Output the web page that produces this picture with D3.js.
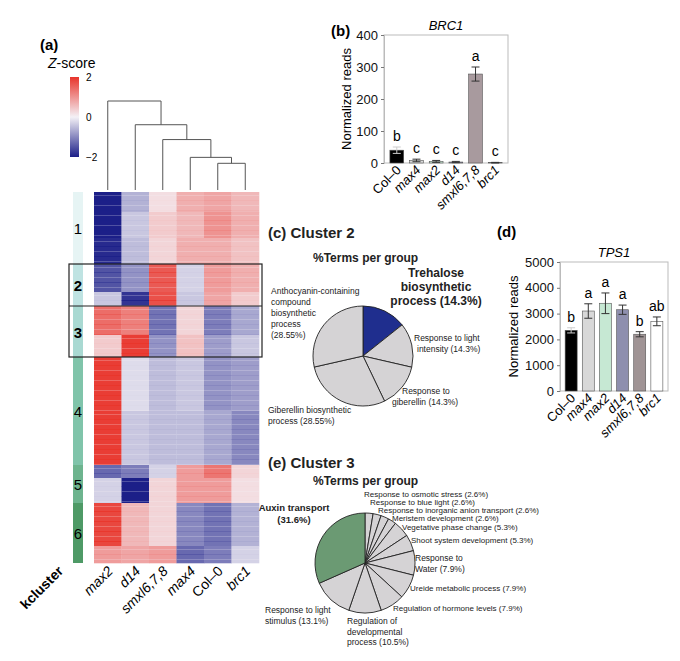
<!DOCTYPE html>
<html><head><meta charset="utf-8">
<script src="https://cdn.jsdelivr.net/npm/d3@7"></script>
<style>body{margin:0;background:#fff}text{font-family:Arial,"Liberation Sans",sans-serif}</style>
</head><body><svg id="fig" width="680" height="661"></svg>
<script>
// heatmap
const hmCols = ["max2", "d14", "smxl6,7,8", "max4", "Col\u20130", "brc1"];
const clusterNames = ["1", "2", "3", "4", "5", "6"];
const clusterRows = [72, 42, 51, 108, 38, 60];   // row count per cluster (height share)
const clusterColors = ["#e6f4f4", "#bfe3e2", "#a9d9d2", "#80c4aa", "#6db48e", "#4e9a66"];
// sub-blocks: [cluster, rows, values per column]
const hmBlocks = [
  [0, 20, [-2.0, -0.6, 0.2, 0.7, 0.8, 0.6]],
  [0, 26, [-2.0, -0.4, 0.4, 0.6, 1.0, 0.7]],
  [0, 26, [-1.9, -0.5, 0.3, 0.7, 0.7, 0.5]],
  [1, 28, [-1.5, -0.9, 1.6, -0.3, 0.9, 0.7]],
  [1, 14, [-0.4, -1.8, 1.7, -0.4, 0.8, 0.4]],
  [2, 29, [1.4, 1.2, -1.2, 0.3, -1.1, -0.7]],
  [2, 22, [0.4, 1.9, -0.9, 0.5, -0.8, -0.4]],
  [3, 54, [1.9, -0.2, -0.5, -0.4, -0.9, -0.8]],
  [3, 54, [1.9, -0.4, -0.5, -0.5, -0.7, -1.0]],
  [4, 13, [-1.3, -1.1, -0.3, 0.9, 1.3, 0.3]],
  [4, 25, [-0.3, -2.0, 0.3, 0.9, 0.9, 0.2]],
  [5, 43, [1.8, 0.6, 0.3, -1.0, -1.2, -0.6]],
  [5, 17, [0.9, 0.8, 0.9, -1.3, -1.1, -0.3]]
];
// dendrogram merges: [left (col or node), right, height]
const dendro = [[4, 5, 0.18], [3, "m0", 0.22], [2, "m1", 0.34], [1, "m2", 0.44], [0, "m3", 0.6]];

// bar panels
const barCats = ["Col\u20130", "max4", "max2", "d14", "smxl6,7,8", "brc1"];
const brcVals = [40, 8, 5, 3, 278, 1];
const brcErr = [10, 4, 3, 2, 22, 1];
const brcLetters = ["b", "c", "c", "c", "a", "c"];
const brcColors = ["#000", "#d8d8d8", "#c6e8d3", "#8e8fae", "#a89a9e", "#fff"];
const tpsVals = [2350, 3100, 3400, 3150, 2200, 2700];
const tpsErr = [100, 280, 400, 180, 100, 170];
const tpsLetters = ["b", "a", "a", "a", "b", "ab"];
const tpsColors = ["#000", "#d8d8d8", "#c6e8d3", "#8e8fae", "#a09495", "#fff"];

// pies
const c2Terms = ["Trehalose biosynthetic process", "Response to light intensity", "Response to giberellin", "Giberellin biosynthetic process", "Anthocyanin-containing compound biosynthetic process"];
const c2Pct = [14.3, 14.3, 14.3, 28.55, 28.55];
const c3Terms = ["Response to osmotic stress", "Response to blue light", "Response to inorganic anion  transport", "Meristem development", "Vegetative phase change", "Shoot system development", "Response to Water", "Ureide metabolic process", "Regulation of hormone levels", "Regulation of developmental process", "Response to light stimulus", "Auxin transport"];
const c3Pct = [2.6, 2.6, 2.6, 2.6, 5.3, 5.3, 7.9, 7.9, 7.9, 10.5, 13.1, 31.6];

const svg = d3.select("#fig");
const z = d3.scaleLinear().domain([-2, 0, 2]).range(["#1c1f88", "#f4f1f6", "#e8342b"]).clamp(true);

// ---------- (a) heatmap ----------
svg.append("text").attr("x", 40).attr("y", 50).attr("font-size", 15).attr("font-weight", "bold").text("(a)");
const zs = svg.append("text").attr("x", 48).attr("y", 68).attr("font-size", 14);
zs.append("tspan").attr("font-style", "italic").text("Z");
zs.append("tspan").text("-score");
const grad = svg.append("defs").append("linearGradient").attr("id", "zg").attr("x1", 0).attr("x2", 0).attr("y1", 0).attr("y2", 1);
[2, 1, 0, -1, -2].forEach((v, i) => grad.append("stop").attr("offset", i / 4).attr("stop-color", z(v)));
const zy = d3.scaleLinear().domain([2, -2]).range([77, 157]);
svg.append("rect").attr("x", 70).attr("y", 77).attr("width", 9).attr("height", 80).attr("fill", "url(#zg)");
[2, 0, -2].forEach(v => svg.append("text").attr("x", 86).attr("y", zy(v) + 4).attr("font-size", 10).text(v < 0 ? "\u22122" : v));

const hx = d3.scaleBand().domain(d3.range(hmCols.length)).range([94, 259]);
const totalRows = d3.sum(clusterRows);
const hy = d3.scaleLinear().domain([0, totalRows]).range([192, 563]);
let r0 = 0;
hmBlocks.forEach(([c, n, vals]) => {
  vals.forEach((v, j) => {
    svg.append("rect").attr("x", hx(j)).attr("y", hy(r0)).attr("width", hx.bandwidth() + 0.3)
      .attr("height", hy(r0 + n) - hy(r0) + 0.3).attr("fill", z(v));
  });
  // thin stripes to hint row texture
  for (let k = 3; k < n; k += 5) {
    vals.forEach((v, j) => {
      svg.append("rect").attr("x", hx(j)).attr("y", hy(r0 + k)).attr("width", hx.bandwidth())
        .attr("height", 1).attr("fill", z(v * (k % 2 ? 0.7 : 1.15))).attr("opacity", 0.8);
    });
  }
  r0 += n;
});
// cluster side bar
let cr = 0;
const starts = [];
clusterRows.forEach((n, i) => {
  starts.push(cr);
  svg.append("rect").attr("x", 73).attr("y", hy(cr)).attr("width", 10).attr("height", hy(cr + n) - hy(cr)).attr("fill", clusterColors[i]);
  svg.append("text").attr("x", 78).attr("y", (hy(cr) + hy(cr + n)) / 2 + 6).attr("text-anchor", "middle")
    .attr("font-size", 15).attr("font-weight", (i == 1 || i == 2) ? "bold" : "normal").text(clusterNames[i]);
  cr += n;
});
// box around clusters 2 and 3
svg.append("rect").attr("x", 69).attr("y", hy(starts[1])).attr("width", 193).attr("height", hy(starts[3]) - hy(starts[1]))
  .attr("fill", "none").attr("stroke", "#222").attr("stroke-width", 1.2);
svg.append("line").attr("x1", 69).attr("x2", 262).attr("y1", hy(starts[2])).attr("y2", hy(starts[2])).attr("stroke", "#222").attr("stroke-width", 1.2);
// column labels
hmCols.forEach((c, j) => {
  svg.append("text").attr("transform", `translate(${hx(j) + hx.bandwidth() / 2 + 6},572) rotate(-45)`)
    .attr("text-anchor", "end").attr("font-size", 14).attr("font-style", c == "Col\u20130" ? "normal" : "italic").text(c);
});
svg.append("text").attr("transform", "translate(64,572) rotate(-45)").attr("text-anchor", "end")
  .attr("font-size", 14).attr("font-weight", "bold").text("kcluster");
// dendrogram
const dh = d3.scaleLinear().domain([0, 0.6]).range([190, 101]);
const nodes = {};
hmCols.forEach((c, j) => nodes[j] = { x: hx(j) + hx.bandwidth() / 2, h: 0 });
dendro.forEach(([a, b, h], i) => {
  const A = nodes[a], B = nodes[b];
  svg.append("path").attr("d", `M${A.x},${dh(A.h)}V${dh(h)}H${B.x}V${dh(B.h)}`)
    .attr("fill", "none").attr("stroke", "#555").attr("stroke-width", 1);
  nodes["m" + i] = { x: (A.x + B.x) / 2, h: h };
});

// ---------- bar panels ----------
function barPanel(o) {
  const x = d3.scaleBand().domain(barCats).range([o.x0, o.x1]).padding(0.3);
  const y = d3.scaleLinear().domain([0, o.max]).range([o.y1, o.y0]);
  const g = svg.append("g");
  g.append("text").attr("x", o.lx).attr("y", o.ly).attr("font-size", 15).attr("font-weight", "bold").text(o.label);
  g.append("text").attr("x", (o.x0 + o.x1) / 2).attr("y", o.y0 - 5).attr("text-anchor", "middle")
    .attr("font-size", 13).attr("font-style", "italic").text(o.title);
  g.append("rect").attr("x", o.x0).attr("y", o.y0).attr("width", o.x1 - o.x0).attr("height", o.y1 - o.y0)
    .attr("fill", "none").attr("stroke", "#bbb");
  const ax = g.append("g").attr("transform", `translate(${o.x0},0)`)
    .call(d3.axisLeft(y).ticks(o.ticks).tickSize(3).tickFormat(d3.format("d")));
  ax.selectAll("text").attr("font-size", 13).attr("fill", "#111");
  ax.select(".domain").attr("stroke", "#bbb");
  ax.selectAll(".tick line").attr("stroke", "#777");
  g.append("text").attr("transform", `translate(${o.x0 - o.tOff},${(o.y0 + o.y1) / 2}) rotate(-90)`)
    .attr("text-anchor", "middle").attr("font-size", 13).text("Normalized reads");
  barCats.forEach((c, i) => {
    const bx = x(c), bw = x.bandwidth(), cx = bx + bw / 2;
    g.append("rect").attr("x", bx).attr("y", y(o.vals[i])).attr("width", bw).attr("height", y(0) - y(o.vals[i]))
      .attr("fill", o.colors[i]).attr("stroke", "#555").attr("stroke-width", 0.6);
    const e1 = y(o.vals[i] + o.err[i]), e2 = y(Math.max(0, o.vals[i] - o.err[i]));
    const ec = i == 0 ? "#ccc" : "#333";
    g.append("path").attr("d", `M${cx},${e1}V${e2}M${cx - 4},${e1}H${cx + 4}M${cx - 4},${e2}H${cx + 4}`).attr("stroke", ec).attr("fill", "none");
    g.append("text").attr("x", cx).attr("y", e1 - 6).attr("text-anchor", "middle").attr("font-size", 14).text(o.letters[i]);
    g.append("text").attr("transform", `translate(${cx + 5},${o.y1 + 8}) rotate(-45)`).attr("text-anchor", "end")
      .attr("font-size", 13).attr("font-style", c == "Col\u20130" ? "normal" : "italic").text(c);
  });
}
barPanel({ label: "(b)", lx: 331, ly: 36, title: "BRC1", x0: 384, x1: 508, y0: 35, y1: 163, max: 400, ticks: 4, tOff: 33,
  vals: brcVals, err: brcErr, letters: brcLetters, colors: brcColors });
barPanel({ label: "(d)", lx: 497, ly: 237, title: "TPS1", x0: 560, x1: 668, y0: 262, y1: 391, max: 5000, ticks: 5, tOff: 42,
  vals: tpsVals, err: tpsErr, letters: tpsLetters, colors: tpsColors });

// ---------- pies ----------
function pie(cx, cy, r, pcts, hiIdx, hiColor) {
  const arcs = d3.pie().sort(null).value(d => d)(pcts);
  const arc = d3.arc().innerRadius(0).outerRadius(r);
  svg.append("g").attr("transform", `translate(${cx},${cy})`).selectAll("path").data(arcs).join("path")
    .attr("d", arc).attr("fill", (d, i) => i == hiIdx ? hiColor : "#d5d3d5").attr("stroke", "#222").attr("stroke-width", 0.9);
}
function label(x, y, lines, o = {}) {
  const t = svg.append("text").attr("x", x).attr("y", y).attr("font-size", o.size || 8.5)
    .attr("text-anchor", o.anchor || "start").attr("font-weight", o.bold ? "bold" : "normal").attr("fill", "#222");
  lines.forEach((l, i) => t.append("tspan").attr("x", x).attr("dy", i ? (o.lh || 10.5) : 0).text(l));
}
label(268, 238, ["(c)  Cluster 2"], { size: 15, bold: true });
label(313, 262, ["%Terms per group"], { size: 12, bold: true });
pie(363, 356, 50, c2Pct, 0, "#1f2e8e");
label(436, 277, ["Trehalose", "biosynthetic", "process (" + c2Pct[0] + "%)"], { size: 12, bold: true, anchor: "middle", lh: 14 });
label(414, 341, ["Response to light"]); label(417, 352, ["intensity (" + c2Pct[1] + "%)"]);
label(402, 394, ["Response to"]); label(392, 405, ["giberellin (" + c2Pct[2] + "%)"]);
label(268, 413, ["Giberellin biosynthetic", "process (" + c2Pct[3] + "%)"], { lh: 11 });
label(271, 294, ["Anthocyanin-containing", "compound", "biosynthetic", "process", "(" + c2Pct[4] + "%)"], { lh: 11 });

label(268, 468, ["(e)  Cluster 3"], { size: 15, bold: true });
label(313, 485, ["%Terms per group"], { size: 12, bold: true });
pie(365, 563, 50, c3Pct, 11, "#6b9a73");
label(294, 511, ["Auxin transport"], { size: 9.5, bold: true, anchor: "middle" });
label(294, 523, ["(" + c3Pct[11] + "%)"], { size: 9.5, bold: true, anchor: "middle" });
const c3Pos = [[364, 497], [370, 505], [378, 513], [392, 521], [402, 530], [411, 543], [415, 561, ["Response to", "Water (7.9%)"]],
  [410, 591], [393, 611], [347, 624, ["Regulation of", "developmental", "process (10.5%)"]], [265, 613, ["Response to light", "stimulus (13.1%)"]]];
c3Pos.forEach(([x, y, lines], i) => {
  if (lines) label(x, y, lines, { lh: 10.5 });
  else label(x, y, [c3Terms[i] + " (" + c3Pct[i] + "%)"], { size: 8 });
});
</script></body></html>
